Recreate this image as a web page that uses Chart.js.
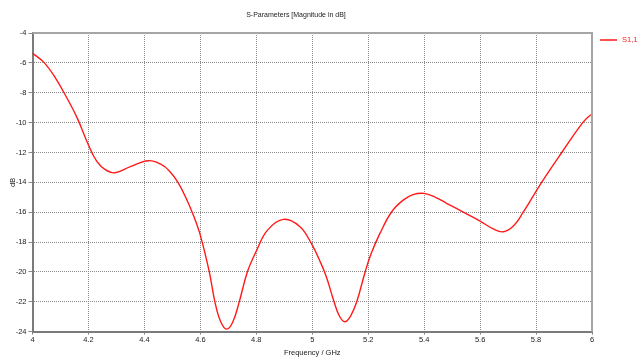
<!DOCTYPE html>
<html>
<head>
<meta charset="utf-8">
<script src="https://cdn.jsdelivr.net/npm/chart.js@4/dist/chart.umd.min.js"></script>
<style>
  html, body { margin: 0; padding: 0; background: #fff; }
  #wrap { width: 640px; height: 362px; }
</style>
</head>
<body>
<div id="wrap"><canvas id="c"></canvas></div>
<script>
// S1,1 magnitude (GHz / dB)
const freq = [
  4.00, 4.04, 4.08, 4.12, 4.16, 4.20, 4.23, 4.26, 4.295, 4.35, 4.414,
  4.46, 4.49, 4.52, 4.55, 4.575, 4.60, 4.632, 4.652, 4.672, 4.694, 4.716,
  4.739, 4.768, 4.80, 4.84, 4.897, 4.956, 5.00, 5.028, 5.05, 5.078, 5.097, 5.116,
  5.137, 5.159, 5.189, 5.21, 5.242, 5.284, 5.325, 5.36, 5.40, 5.44, 5.48, 5.54,
  5.60, 5.647, 5.683, 5.72, 5.754, 5.82, 5.892, 5.967, 6.00
];
const s11 = [
  -5.35, -5.95, -6.95, -8.25, -9.7, -11.5, -12.6, -13.15, -13.36, -12.95, -12.55,
  -12.8, -13.25, -14.0, -15.1, -16.2, -17.55, -20.0, -22.0, -23.3, -23.83, -23.35,
  -22.0, -20.0, -18.6, -17.2, -16.48, -16.97, -18.2, -19.3, -20.3, -22.0, -22.95, -23.33,
  -22.95, -22.0, -20.0, -18.8, -17.42, -15.97, -15.19, -14.82, -14.74, -15.0, -15.4, -16.0,
  -16.6, -17.12, -17.31, -16.9, -16.0, -14.0, -12.0, -10.0, -9.4
];
const xTicks = [4, 4.2, 4.4, 4.6, 4.8, 5, 5.2, 5.4, 5.6, 5.8, 6];
const xTickLabels = ["4", "4.2", "4.4", "4.6", "4.8", "5", "5.2", "5.4", "5.6", "5.8", "6"];
const yTicks = [-24, -22, -20, -18, -16, -14, -12, -10, -8, -6, -4];
const yTickLabels = ["-24", "-22", "-20", "-18", "-16", "-14", "-12", "-10", "-8", "-6", "-4"];
const seriesName = "S1,1";

const FONT = "'Liberation Sans', Arial, sans-serif";
const txt = "#222";
const gridCol = "#8a8a8a";

// frame on top/right + legend entry outside the plot
const frame = {
  id: "frame",
  afterDraw(ch) {
    const { ctx, chartArea: a } = ch;
    ctx.save();
    ctx.strokeStyle = "#a6a6a6";
    ctx.lineWidth = 2;
    ctx.beginPath();
    ctx.moveTo(a.left, a.top);
    ctx.lineTo(a.right, a.top);
    ctx.lineTo(a.right, a.bottom);
    ctx.stroke();

    const ds = ch.data.datasets[0];
    const y = a.top + 7;
    ctx.strokeStyle = ds.borderColor;
    ctx.lineWidth = 1.5;
    ctx.beginPath();
    ctx.moveTo(a.right + 8, y);
    ctx.lineTo(a.right + 25, y);
    ctx.stroke();
    ctx.fillStyle = ds.borderColor;
    ctx.font = "7.5px " + FONT;
    ctx.textBaseline = "middle";
    ctx.fillText(ds.label, a.right + 30, y);
    ctx.restore();
  },
};

new Chart(document.getElementById("c"), {
  type: "line",
  data: {
    datasets: [{
      label: seriesName,
      data: freq.map((f, i) => ({ x: f, y: s11[i] })),
      borderColor: "#ff1a1a",
      borderWidth: 1.4,
      pointRadius: 0,
      tension: 0.4,
      fill: false,
    }],
  },
  options: {
    responsive: true,
    maintainAspectRatio: false,
    animation: false,
    layout: { padding: { left: 0, right: 48, top: 0, bottom: 0 } },
    plugins: {
      legend: { display: false },
      tooltip: { enabled: false },
      title: {
        display: true,
        text: "S-Parameters [Magnitude in dB]",
        color: txt,
        font: { family: FONT, size: 7, weight: "normal" },
        padding: { top: 10.8, bottom: 13.8 },
      },
    },
    scales: {
      x: {
        type: "linear",
        min: 4,
        max: 6,
        afterBuildTicks: (s) => (s.ticks = xTicks.map((v) => ({ value: v }))),
        afterFit: (s) => (s.height = 30.3),
        ticks: {
          autoSkip: false,
          maxRotation: 0,
          padding: 1,
          color: txt,
          font: { family: FONT, size: 7.5 },
          callback: (v, i) => xTickLabels[i],
        },
        grid: { color: gridCol, lineWidth: 1, tickLength: 3 },
        border: { display: true, color: "#7a7a7a", width: 2, dash: [1, 1] },
        title: {
          display: true,
          text: "Frequency / GHz",
          color: txt,
          font: { family: FONT, size: 7.5 },
          padding: { top: 0, bottom: 4.5 },
        },
      },
      y: {
        min: -24,
        max: -4,
        afterBuildTicks: (s) => (s.ticks = yTicks.map((v) => ({ value: v }))),
        afterFit: (s) => (s.width = 32.5),
        ticks: {
          autoSkip: false,
          padding: 2,
          color: txt,
          font: { family: FONT, size: 7.5 },
          callback: (v, i) => yTickLabels[i],
        },
        grid: { color: gridCol, lineWidth: 1, tickLength: 4 },
        border: { display: true, color: "#7a7a7a", width: 2, dash: [1, 1] },
        title: {
          display: true,
          text: "dB",
          color: txt,
          font: { family: FONT, size: 7.5 },
          padding: { top: 8.5, bottom: 0 },
        },
      },
    },
  },
  plugins: [frame],
});
</script>
</body>
</html>
